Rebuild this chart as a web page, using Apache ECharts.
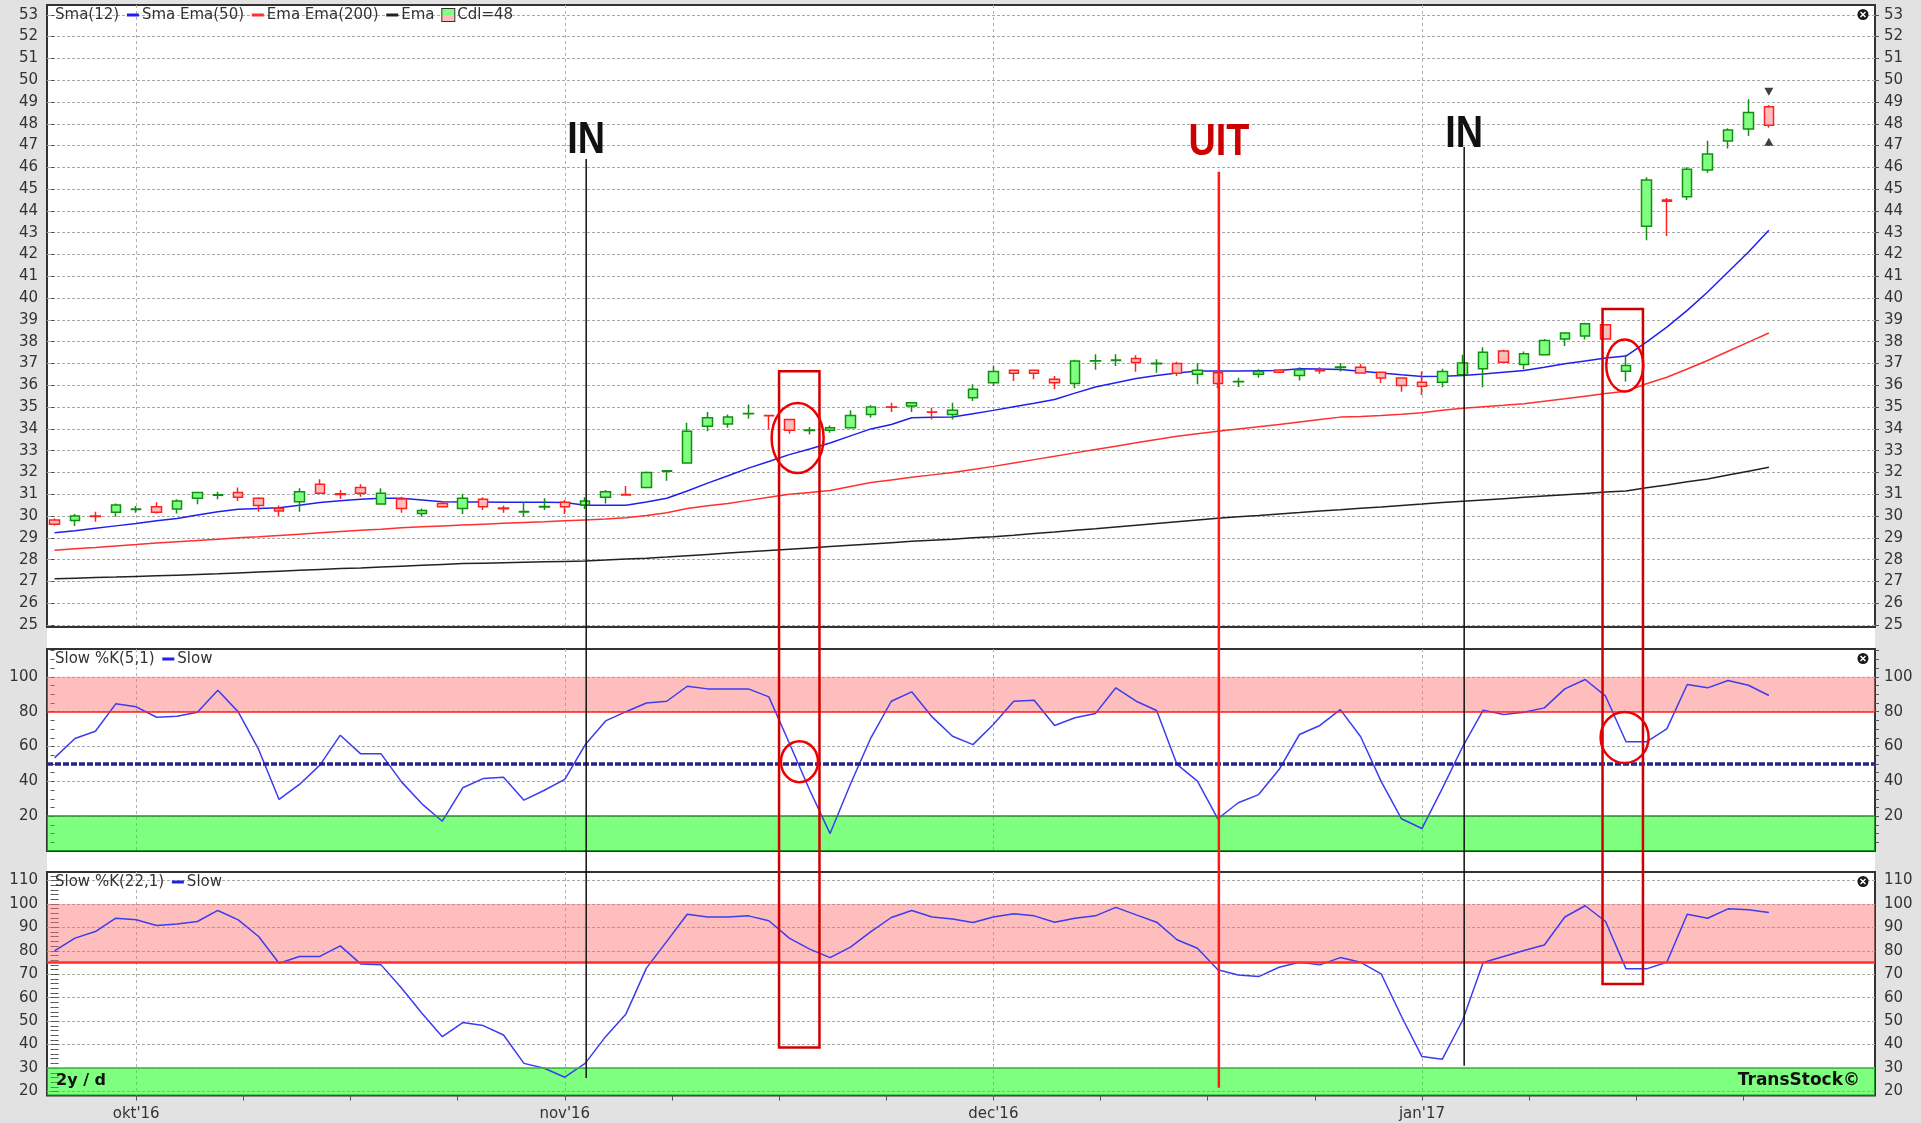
<!DOCTYPE html>
<html>
<head>
<meta charset="utf-8">
<title>TransStock</title>
<script src="https://cdn.jsdelivr.net/npm/echarts@6/dist/echarts.min.js"></script>
<style>
  html, body { margin: 0; padding: 0; background: #e2e2e2; }
  #chart { width: 1921px; height: 1123px; }
</style>
</head>
<body>
<div id="chart"></div>
<script>
// ---------------- data ----------------
// one candle per trading day: [open, close, low, high]
var ohlc = [
  [29.82, 29.63, 29.57, 29.89], [29.80, 30.00, 29.54, 30.10], [30.00, 29.98, 29.74, 30.20],
  [30.17, 30.51, 29.97, 30.58], [30.30, 30.32, 30.15, 30.46], [30.43, 30.17, 30.12, 30.63],
  [30.32, 30.69, 30.12, 30.77], [30.82, 31.08, 30.54, 31.12], [30.96, 30.98, 30.77, 31.12],
  [31.08, 30.86, 30.69, 31.31], [30.82, 30.48, 30.20, 30.86], [30.35, 30.23, 30.00, 30.48],
  [30.66, 31.12, 30.20, 31.28], [31.46, 31.05, 31.05, 31.69], [31.02, 30.99, 30.78, 31.20],
  [31.31, 31.05, 30.89, 31.46], [30.55, 31.05, 30.55, 31.28], [30.78, 30.35, 30.15, 30.89],
  [30.12, 30.25, 29.97, 30.35], [30.58, 30.43, 30.43, 30.66], [30.35, 30.82, 30.09, 31.02],
  [30.77, 30.43, 30.28, 30.86], [30.37, 30.34, 30.15, 30.48], [30.19, 30.21, 29.97, 30.63],
  [30.42, 30.44, 30.28, 30.82], [30.63, 30.43, 30.09, 30.74], [30.51, 30.69, 30.32, 30.86],
  [30.86, 31.12, 30.58, 31.20], [30.99, 30.97, 30.97, 31.38], [31.31, 32.00, 31.31, 32.05],
  [32.06, 32.08, 31.62, 32.10], [32.43, 33.89, 32.43, 34.28], [34.12, 34.51, 33.89, 34.77],
  [34.23, 34.55, 34.05, 34.66], [34.69, 34.71, 34.46, 35.12], [34.62, 34.60, 33.97, 34.63],
  [34.43, 33.94, 33.78, 34.43], [33.93, 33.95, 33.74, 34.09], [33.94, 34.05, 33.82, 34.15],
  [34.05, 34.62, 34.05, 34.85], [34.66, 35.00, 34.51, 35.08], [35.01, 34.99, 34.78, 35.20],
  [35.05, 35.20, 34.78, 35.20], [34.78, 34.76, 34.43, 34.97], [34.66, 34.85, 34.43, 35.20],
  [35.43, 35.82, 35.28, 36.05], [36.12, 36.63, 35.97, 36.89], [36.69, 36.55, 36.20, 36.69],
  [36.69, 36.55, 36.28, 36.69], [36.28, 36.12, 35.82, 36.43], [36.08, 37.12, 35.86, 37.17],
  [37.11, 37.13, 36.71, 37.43], [37.14, 37.16, 36.89, 37.43], [37.23, 37.05, 36.62, 37.38],
  [36.99, 37.01, 36.58, 37.20], [37.00, 36.55, 36.43, 37.08], [36.51, 36.69, 36.05, 37.02],
  [36.58, 36.08, 35.86, 36.58], [36.16, 36.18, 35.92, 36.35], [36.51, 36.63, 36.35, 36.74],
  [36.70, 36.60, 36.55, 36.72], [36.45, 36.71, 36.22, 36.83], [36.69, 36.67, 36.53, 36.83],
  [36.82, 36.84, 36.63, 37.02], [36.83, 36.57, 36.53, 36.99], [36.60, 36.33, 36.11, 36.63],
  [36.33, 35.99, 35.71, 36.33], [36.14, 35.96, 35.56, 36.63], [36.14, 36.63, 35.91, 36.76],
  [36.48, 37.02, 36.48, 37.40], [36.76, 37.52, 35.91, 37.75], [37.57, 37.06, 37.06, 37.63],
  [36.96, 37.45, 36.73, 37.55], [37.40, 38.06, 37.40, 38.13], [38.13, 38.40, 37.80, 38.44],
  [38.26, 38.82, 38.10, 38.87], [38.78, 38.13, 38.10, 38.80], [36.65, 36.91, 36.17, 37.40],
  [43.30, 45.42, 42.65, 45.55], [44.50, 44.45, 42.85, 44.60], [44.65, 45.91, 44.50, 46.00],
  [45.88, 46.61, 45.75, 47.22], [47.21, 47.71, 46.86, 47.79], [47.76, 48.52, 47.44, 49.12],
  [48.78, 47.93, 47.82, 48.86]
];

var sma12 = [
  29.23, 29.33, 29.44, 29.55, 29.66, 29.78, 29.89, 30.05, 30.20, 30.31,
  30.35, 30.38, 30.50, 30.62, 30.70, 30.77, 30.82, 30.82, 30.74, 30.66,
  30.65, 30.64, 30.63, 30.63, 30.63, 30.62, 30.50, 30.50, 30.50, 30.65,
  30.82, 31.15, 31.51, 31.85, 32.20, 32.50, 32.82, 33.08, 33.35, 33.68,
  34.00, 34.20, 34.51, 34.53, 34.55, 34.70, 34.85, 35.02, 35.18, 35.35,
  35.64, 35.92, 36.12, 36.31, 36.45, 36.56, 36.66, 36.66, 36.66, 36.67,
  36.68, 36.76, 36.75, 36.73, 36.65, 36.57, 36.48, 36.40, 36.42, 36.45,
  36.52, 36.60, 36.68, 36.83, 36.99, 37.12, 37.25, 37.34, 37.98, 38.67,
  39.44, 40.28, 41.20, 42.12, 43.11
];

var ema50 = [
  28.43, 28.50, 28.56, 28.63, 28.69, 28.76, 28.82, 28.88, 28.94, 29.00,
  29.05, 29.11, 29.17, 29.23, 29.29, 29.35, 29.40, 29.46, 29.51, 29.55,
  29.59, 29.63, 29.67, 29.71, 29.74, 29.78, 29.82, 29.86, 29.92, 30.03,
  30.15, 30.35, 30.47, 30.58, 30.72, 30.86, 31.00, 31.08, 31.17, 31.36,
  31.54, 31.66, 31.78, 31.89, 32.00, 32.14, 32.28, 32.43, 32.59, 32.74,
  32.90, 33.05, 33.20, 33.36, 33.51, 33.66, 33.78, 33.89, 34.00, 34.10,
  34.20, 34.32, 34.43, 34.54, 34.57, 34.61, 34.67, 34.74, 34.85, 34.95,
  35.02, 35.08, 35.15, 35.27, 35.38, 35.50, 35.62, 35.73, 36.07, 36.37,
  36.75, 37.14, 37.56, 37.98, 38.40
];

var ema200 = [
  27.12, 27.15, 27.18, 27.20, 27.23, 27.26, 27.29, 27.32, 27.35, 27.39,
  27.43, 27.47, 27.51, 27.55, 27.59, 27.62, 27.66, 27.70, 27.74, 27.78,
  27.82, 27.84, 27.86, 27.88, 27.90, 27.92, 27.94, 27.98, 28.03, 28.07,
  28.12, 28.18, 28.24, 28.30, 28.36, 28.42, 28.48, 28.54, 28.60, 28.66,
  28.72, 28.78, 28.84, 28.89, 28.94, 29.00, 29.05, 29.12, 29.20, 29.27,
  29.35, 29.42, 29.50, 29.58, 29.66, 29.74, 29.82, 29.90, 29.97, 30.03,
  30.10, 30.16, 30.23, 30.29, 30.36, 30.42, 30.49, 30.55, 30.62, 30.68,
  30.74, 30.80, 30.86, 30.92, 30.98, 31.04, 31.10, 31.15, 31.30, 31.43,
  31.57, 31.70, 31.88, 32.06, 32.24
];

// Slow %K(5,1)
var slowK5 = [
  53.5, 64.6, 68.8, 84.5, 82.8, 76.8, 77.4, 79.7, 92.3, 79.9,
  58.3, 29.6, 38.2, 49.3, 66.5, 55.8, 55.8, 39.7, 27.1, 17.1,
  36.3, 41.6, 42.4, 29.2, 34.9, 41.1, 61.0, 74.7, 80.0, 85.0,
  86.0, 94.6, 93.1, 93.1, 93.1, 88.5, 62.0, 35.0, 10.0, 38.5,
  65.0, 86.0, 91.4, 77.0, 65.9, 61.1, 72.6, 86.0, 86.6, 72.1,
  76.5, 78.9, 93.7, 86.0, 80.7, 49.7, 40.1, 18.5, 27.7, 32.4,
  46.8, 66.9, 72.1, 81.2, 65.6, 40.0, 18.5, 12.9, 36.0, 60.0,
  80.9, 78.4, 79.7, 82.2, 93.1, 98.5, 88.9, 62.7, 62.7, 70.1,
  95.6, 93.7, 97.9, 95.2, 89.3
];

// Slow %K(22,1)
var slowK22 = [
  80.0, 85.4, 88.2, 93.9, 93.2, 90.8, 91.4, 92.5, 97.2, 93.2,
  86.1, 74.7, 77.6, 77.6, 82.1, 74.4, 74.0, 64.1, 53.4, 43.4,
  49.4, 48.1, 44.1, 32.0, 29.9, 26.1, 32.0, 43.4, 53.1, 72.6,
  84.0, 95.6, 94.4, 94.4, 94.9, 92.8, 85.4, 80.7, 77.1, 81.6,
  88.2, 94.2, 97.2, 94.4, 93.6, 92.1, 94.4, 95.8, 94.9, 92.2,
  93.9, 94.9, 98.5, 95.3, 92.2, 84.7, 81.1, 71.9, 69.7, 69.0,
  73.0, 75.1, 74.0, 77.1, 75.1, 70.2, 52.0, 34.9, 33.8, 50.5,
  75.0, 77.6, 80.1, 82.5, 94.4, 99.2, 92.5, 72.3, 72.3, 75.1,
  95.6, 93.9, 97.9, 97.5, 96.3
];

// x axis: candle index of the first trading day of each month, weekly ticks
var monthStarts = [4, 25, 46, 67];
var monthLabels = ["okt'16", "nov'16", "dec'16", "jan'17"];
var weekTicks = [4, 9.25, 14.5, 19.75, 25, 30.25, 35.5, 40.75, 46, 51.25, 56.5, 61.75, 67, 72.25, 77.5, 82.75];

// y axis ticks
var priceTicks = [25, 26, 27, 28, 29, 30, 31, 32, 33, 34, 35, 36, 37, 38, 39, 40, 41, 42, 43, 44, 45, 46, 47, 48, 49, 50, 51, 52, 53];
var k5Labels = [20, 40, 60, 80, 100];
var k5Ticks = [5, 10, 15, 20, 25, 30, 35, 40, 45, 50, 55, 60, 65, 70, 75, 80, 85, 90, 95, 100, 105, 110, 115];
var k22Labels = [20, 30, 40, 50, 60, 70, 80, 90, 100, 110];
var k22Ticks = [20, 22, 24, 26, 28, 30, 32, 34, 36, 38, 40, 42, 44, 46, 48, 50, 52, 54, 56, 58, 60, 62, 64, 66, 68,
                70, 72, 74, 76, 78, 80, 82, 84, 86, 88, 90, 92, 94, 96, 98, 100, 102, 104, 106, 108, 110, 112];

// price alerts next to the last candle
var alertAbove = [[84, 49.47]];
var alertBelow = [[84, 47.18]];

// hand drawn signals: vertical lines from the price panel down into the %K(22) panel
var signals = [
  { text: 'IN',  idx: 26.05, top: 46.38, bottom: 25.8, textAt: 46.59, line: '#111111', ink: '#111111', width: 1.5 },
  { text: 'UIT', idx: 57.05, top: 45.80, bottom: 21.6, textAt: 46.54, line: '#ff1a1a', ink: '#cc0000', width: 2.5 },
  { text: 'IN',  idx: 69.07, top: 46.93, bottom: 31.0, textAt: 46.89, line: '#111111', ink: '#111111', width: 1.5 }
];
// boxes: candle range, top price, bottom in %K(22)
var boxes = [
  { from: 35.50, to: 37.48, top: 36.65, bottom: 38.8 },
  { from: 75.85, to: 77.83, top: 39.50, bottom: 65.8 }
];
// rings: panel 0 = price, 1 = %K(5)
var rings = [
  { panel: 0, idx: 36.41, value: 33.58, rx: 26, ry: 35 },
  { panel: 1, idx: 36.50, value: 51.3, rx: 18.5, ry: 20.5 },
  { panel: 0, idx: 76.94, value: 36.91, rx: 18.5, ry: 26 },
  { panel: 1, idx: 76.93, value: 65.2, rx: 24, ry: 25.5 }
];

// ---------------- chart ----------------
var FONT = 'DejaVu Sans';
var X_MIN = -0.37, X_MAX = 89.2;
var chart = echarts.init(document.getElementById('chart'));

var gridBase = { left: 47, right: 46, show: true, backgroundColor: '#ffffff', borderColor: '#333333', borderWidth: 2 };
var grids = [
  Object.assign({}, gridBase, { top: 5, height: 622 }),
  Object.assign({}, gridBase, { top: 649, height: 202 }),
  Object.assign({}, gridBase, { top: 872, height: 223.5 })
];

function monthAxis(gi) {
  return {
    type: 'value', gridIndex: gi, min: X_MIN, max: X_MAX,
    axisLine: { show: false },
    axisTick: { show: false, customValues: monthStarts },
    axisLabel: { show: false },
    splitLine: { show: true, lineStyle: { color: '#b0b0b0', type: [3, 3] } }
  };
}

function sideAxis(gi, pos, min, max, labels, ticks) {
  return {
    type: 'value', gridIndex: gi, position: pos, min: min, max: max,
    axisLine: { show: false },
    axisTick: { show: true, customValues: ticks, length: 4, lineStyle: { color: '#555555' } },
    axisLabel: { customValues: labels, fontFamily: FONT, fontSize: 15, color: '#333333', margin: 9 },
    splitLine: { show: false }
  };
}

function gridLineAxis(gi, min, max, values) {
  return {
    type: 'value', gridIndex: gi, position: 'left', min: min, max: max,
    axisLine: { show: false },
    axisTick: { show: false, customValues: values },
    axisLabel: { show: false },
    splitLine: { show: true, lineStyle: { color: '#a8a8a8', type: [3, 2] } }
  };
}

var xAxes = [
  monthAxis(0), monthAxis(1), monthAxis(2),
  {
    type: 'value', gridIndex: 2, position: 'bottom', min: X_MIN, max: X_MAX,
    axisLine: { show: false },
    axisTick: { show: true, customValues: weekTicks, length: 5, lineStyle: { color: '#555555' } },
    axisLabel: {
      customValues: monthStarts, fontFamily: FONT, fontSize: 15, color: '#333333', margin: 11,
      formatter: function (v) { return monthLabels[monthStarts.indexOf(v)]; }
    },
    splitLine: { show: false }
  }
];

var P_MIN = 24.91, P_MAX = 53.45;
var K5_MIN = 0, K5_MAX = 116;
var K22_MIN = 18.3, K22_MAX = 113.6;

var yAxes = [
  sideAxis(0, 'left', P_MIN, P_MAX, priceTicks, priceTicks),
  sideAxis(0, 'right', P_MIN, P_MAX, priceTicks, priceTicks),
  sideAxis(1, 'left', K5_MIN, K5_MAX, k5Labels, k5Ticks),
  sideAxis(1, 'right', K5_MIN, K5_MAX, k5Labels, k5Ticks),
  gridLineAxis(1, K5_MIN, K5_MAX, k5Labels),
  sideAxis(2, 'left', K22_MIN, K22_MAX, k22Labels, k22Ticks),
  sideAxis(2, 'right', K22_MIN, K22_MAX, k22Labels, k22Ticks),
  gridLineAxis(2, K22_MIN, K22_MAX, k22Labels)
];
yAxes[0].splitLine = { show: true, lineStyle: { color: '#a8a8a8', type: [3, 2] } };

function indexed(arr) {
  return arr.map(function (v, i) { return [i, v]; });
}

function band(lo, hi, color) {
  return [{ xAxis: X_MIN, yAxis: lo, itemStyle: { color: color } }, { xAxis: X_MAX, yAxis: hi }];
}

var PINK = 'rgba(255, 110, 110, 0.45)';
var GREEN = 'rgba(0, 255, 0, 0.5)';

var series = [
  { name: 'Ema200', type: 'line', xAxisIndex: 0, yAxisIndex: 0, data: indexed(ema200), symbol: 'none', z: 2,
    lineStyle: { color: '#222222', width: 1.5 } },
  { name: 'Ema50', type: 'line', xAxisIndex: 0, yAxisIndex: 0, data: indexed(ema50), symbol: 'none', z: 2,
    lineStyle: { color: '#ff3030', width: 1.5 } },
  { name: 'Sma12', type: 'line', xAxisIndex: 0, yAxisIndex: 0, data: indexed(sma12), symbol: 'none', z: 2,
    lineStyle: { color: '#2020ee', width: 1.5 } },
  {
    name: 'Cdl', type: 'candlestick', xAxisIndex: 0, yAxisIndex: 0, z: 3,
    data: ohlc.map(function (c, i) { return [i, c[0], c[1], c[2], c[3]]; }),
    encode: { x: 0, y: [1, 2, 3, 4] },
    barWidth: 10,
    itemStyle: { color: '#80ff80', color0: '#ffbcbc', borderColor: '#109010', borderColor0: '#ff2020', borderWidth: 1.5 }
  },
  { type: 'scatter', xAxisIndex: 0, yAxisIndex: 0, data: alertAbove, symbol: 'triangle', symbolRotate: 180,
    symbolSize: [9, 8], itemStyle: { color: '#111111' }, z: 4 },
  { type: 'scatter', xAxisIndex: 0, yAxisIndex: 0, data: alertBelow, symbol: 'triangle',
    symbolSize: [9, 8], itemStyle: { color: '#111111' }, z: 4 },
  {
    name: 'Slow5', type: 'line', xAxisIndex: 1, yAxisIndex: 2, data: indexed(slowK5), symbol: 'none', z: 3,
    lineStyle: { color: '#3c3cf0', width: 1.5 },
    markArea: { silent: true, data: [band(80, 100, PINK), band(K5_MIN, 20, GREEN)] },
    markLine: {
      silent: true, symbol: 'none', label: { show: false },
      data: [
        { yAxis: 80, lineStyle: { color: '#ff2020', width: 1.5, type: 'solid' } },
        { yAxis: 20, lineStyle: { color: '#2e8b2e', width: 1.5, type: 'solid' } },
        { yAxis: 50, lineStyle: { color: '#24248c', width: 3.5, type: [6, 2] } }
      ]
    }
  },
  {
    name: 'Slow22', type: 'line', xAxisIndex: 2, yAxisIndex: 5, data: indexed(slowK22), symbol: 'none', z: 3,
    lineStyle: { color: '#3c3cf0', width: 1.5 },
    markArea: { silent: true, data: [band(75, 100, PINK), band(K22_MIN, 30, GREEN)] },
    markLine: {
      silent: true, symbol: 'none', label: { show: false },
      data: [
        { yAxis: 75, lineStyle: { color: '#ff3030', width: 2.5, type: 'solid' } },
        { yAxis: 30, lineStyle: { color: '#3fb43f', width: 1.5, type: 'solid' } }
      ]
    }
  }
];

chart.setOption({
  animation: false,
  backgroundColor: '#e2e2e2',
  grid: grids,
  xAxis: xAxes,
  yAxis: yAxes,
  series: series
});

// ---------------- annotations, placed through the axes ----------------
var panels = [
  { xAxisIndex: 0, yAxisIndex: 0 },
  { xAxisIndex: 1, yAxisIndex: 2 },
  { xAxisIndex: 2, yAxisIndex: 5 }
];
function px(panel, x, y) {
  return chart.convertToPixel(panels[panel], [x, y]);
}

var graphics = [];

// white page behind the panels
var g0 = px(0, X_MIN, P_MAX), g2 = px(2, X_MAX, K22_MIN);
graphics.push({ type: 'rect', z: -10, silent: true,
  shape: { x: g0[0], y: g0[1], width: g2[0] - g0[0], height: g2[1] - g0[1] },
  style: { fill: '#ffffff' } });

// legends
var lastClose = ohlc[ohlc.length - 1][1];
var dash = function (c) { return { width: 12, height: 3, backgroundColor: c }; };
var richLegend = {
  b: dash('#2020ee'), r: dash('#ff3030'), k: dash('#222222'), s: dash('#2020ee'),
  g: { width: 3 },
  c: {
    width: 12, height: 12, borderColor: '#333333', borderWidth: 1,
    backgroundColor: new echarts.graphic.LinearGradient(0, 0, 0, 1, [
      { offset: 0, color: '#80ff80' }, { offset: 0.5, color: '#80ff80' },
      { offset: 0.5, color: '#ffbcbc' }, { offset: 1, color: '#ffbcbc' }
    ])
  }
};
function legend(panel, text) {
  var p = px(panel, X_MIN, panel === 0 ? P_MAX : (panel === 1 ? K5_MAX : K22_MAX));
  graphics.push({ type: 'text', z: 20, silent: true, x: p[0] + 8, y: p[1] + 10,
    style: { text: text, rich: richLegend, font: '15px "' + FONT + '"', fill: '#333333', verticalAlign: 'middle' } });
}
legend(0, 'Sma(12) {g| }{b| }{g| }Sma Ema(50) {g| }{r| }{g| }Ema Ema(200) {g| }{k| }{g| }Ema {g| }{c| }{g| }Cdl=' + Math.round(lastClose));
legend(1, 'Slow %K(5,1) {g| }{s| }{g| }Slow');
legend(2, 'Slow %K(22,1) {g| }{s| }{g| }Slow');

// close buttons
[[0, P_MAX], [1, K5_MAX], [2, K22_MAX]].forEach(function (c) {
  var p = px(c[0], X_MAX, c[1]);
  var cx = p[0] - 12, cy = p[1] + 9.5;
  graphics.push({ type: 'group', z: 20, silent: true, children: [
    { type: 'circle', shape: { cx: cx, cy: cy, r: 5.5 }, style: { fill: '#1a1a1a' } },
    { type: 'line', shape: { x1: cx - 2.5, y1: cy - 2.5, x2: cx + 2.5, y2: cy + 2.5 }, style: { stroke: '#fff', lineWidth: 1.5 } },
    { type: 'line', shape: { x1: cx - 2.5, y1: cy + 2.5, x2: cx + 2.5, y2: cy - 2.5 }, style: { stroke: '#fff', lineWidth: 1.5 } }
  ] });
});

// footer texts in the %K(22) panel
var f0 = px(2, X_MIN, 24.5), f1 = px(2, X_MAX, 24.5);
graphics.push({ type: 'text', z: 20, silent: true, x: f0[0] + 9, y: f0[1],
  style: { text: '2y / d', font: 'bold 16px "' + FONT + '"', fill: '#111111', verticalAlign: 'middle' } });
graphics.push({ type: 'text', z: 20, silent: true, x: f1[0] - 15, y: f1[1],
  style: { text: 'TransStock©', font: 'bold 17px "' + FONT + '"', fill: '#111111', align: 'right', verticalAlign: 'middle' } });

// signal lines with their labels (text baseline sits on textAt)
signals.forEach(function (s) {
  var a = px(0, s.idx, s.top), b = px(2, s.idx, s.bottom), t = px(0, s.idx, s.textAt);
  graphics.push({ type: 'line', z: 100, silent: true,
    shape: { x1: a[0], y1: a[1], x2: b[0], y2: b[1] }, style: { stroke: s.line, lineWidth: s.width } });
  graphics.push({ type: 'text', z: 100, silent: true, x: t[0], y: t[1] + 9, scaleX: 0.84,
    style: { text: s.text, font: 'bold 45px "Liberation Sans"', fill: s.ink, align: 'center', verticalAlign: 'bottom' } });
});

// boxes
boxes.forEach(function (r) {
  var a = px(0, r.from, r.top), b = px(2, r.to, r.bottom);
  graphics.push({ type: 'rect', z: 100, silent: true,
    shape: { x: a[0], y: a[1], width: b[0] - a[0], height: b[1] - a[1] },
    style: { fill: 'none', stroke: '#d00000', lineWidth: 2.5 } });
});

// rings
rings.forEach(function (r) {
  var c = px(r.panel, r.idx, r.value);
  graphics.push({ type: 'ellipse', z: 100, silent: true,
    shape: { cx: c[0], cy: c[1], rx: r.rx, ry: r.ry },
    style: { fill: 'none', stroke: '#ee0000', lineWidth: 2.5 } });
});

chart.setOption({ graphic: graphics });
</script>
</body>
</html>
